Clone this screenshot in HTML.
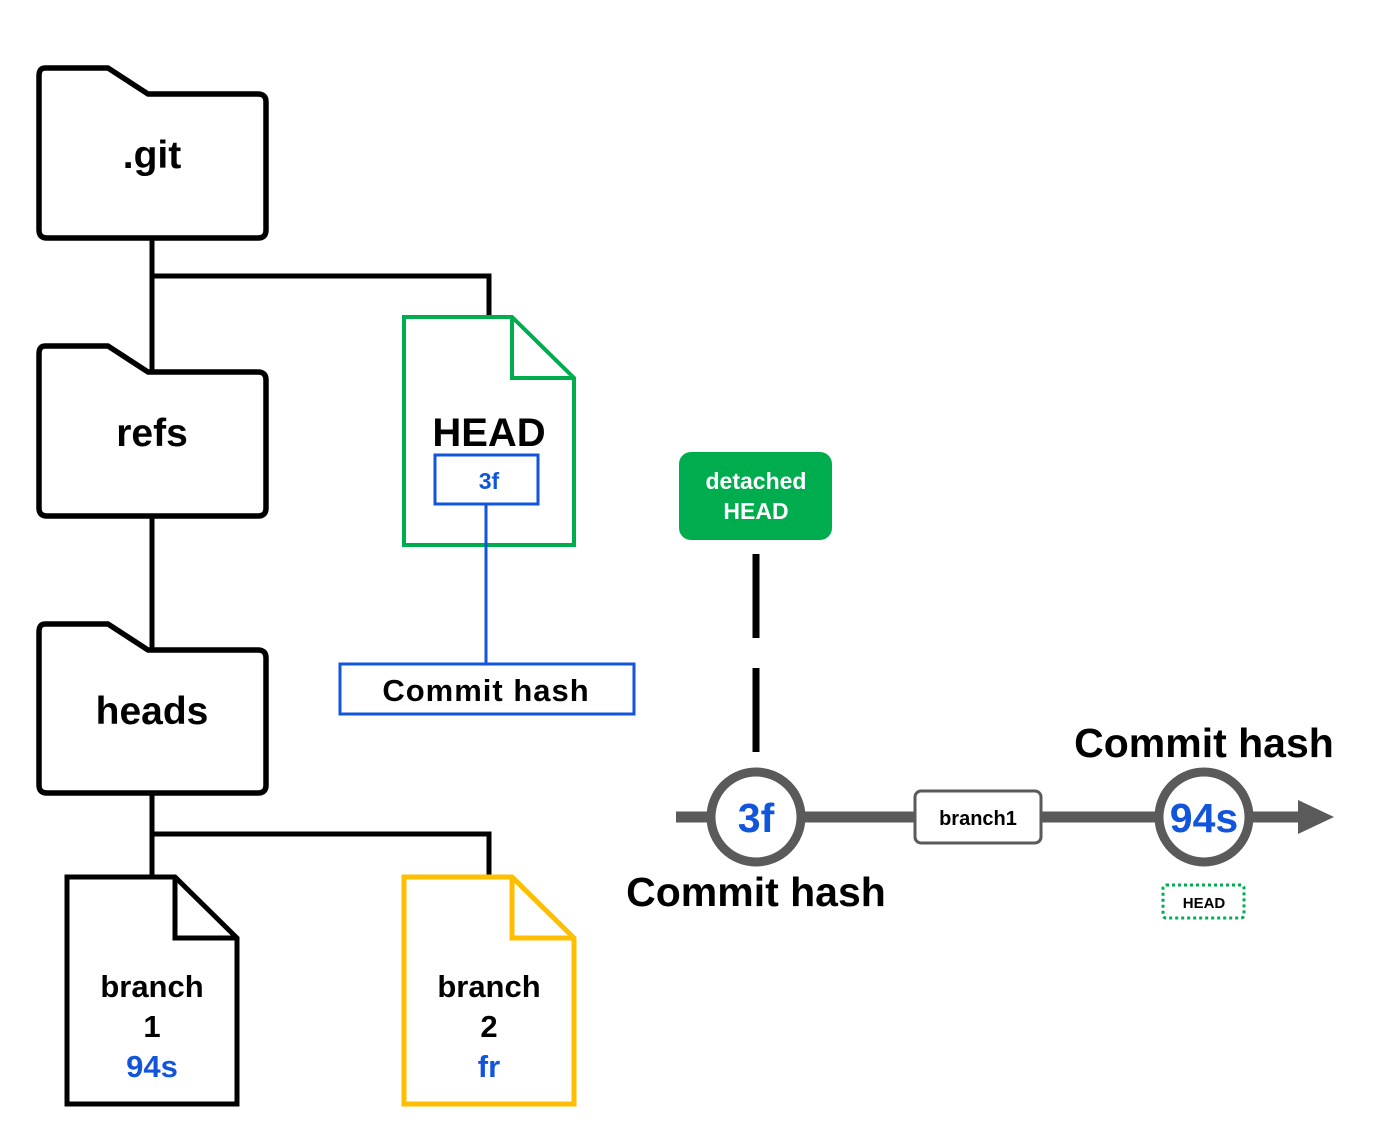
<!DOCTYPE html>
<html><head><meta charset="utf-8"><style>
html,body{margin:0;padding:0;background:#fff;width:1383px;height:1131px;overflow:hidden}
text{font-family:"Liberation Sans",Arial,sans-serif;font-weight:bold}
</style></head><body>
<svg width="1383" height="1131" viewBox="0 0 1383 1131" xmlns="http://www.w3.org/2000/svg">
<g stroke="#000" stroke-width="5" fill="none">
<path d="M152 240V370"/>
<path d="M152 276H489V316"/>
<path d="M152 518V648"/>
<path d="M152 795V876"/>
<path d="M152 834H489V876"/>
</g>
<g stroke="#000" stroke-width="5.5" fill="#fff" stroke-linejoin="round">
<path d="M45 68H108L148 94H258Q266 94 266 102V230Q266 238 258 238H47Q39 238 39 230V76Q39 68 45 68Z"/>
<path d="M45 346H108L148 372H258Q266 372 266 380V508Q266 516 258 516H47Q39 516 39 508V354Q39 346 45 346Z"/>
<path d="M45 624H108L148 650H258Q266 650 266 658V785Q266 793 258 793H47Q39 793 39 785V632Q39 624 45 624Z"/>
</g>
<path d="M152 240V370" stroke="#000" stroke-width="5"/>
<path d="M152 518V648" stroke="#000" stroke-width="5"/>
<text x="152" y="168" font-size="39" text-anchor="middle">.git</text>
<text x="152" y="446" font-size="39" text-anchor="middle">refs</text>
<text x="152" y="724" font-size="39" text-anchor="middle">heads</text>
<path d="M404 317H512L574 378V545H404Z" fill="#fff" stroke="#00ad4e" stroke-width="4"/>
<path d="M512 317V378H574" fill="none" stroke="#00ad4e" stroke-width="4"/>
<text x="489" y="446" font-size="40" text-anchor="middle">HEAD</text>
<rect x="435" y="455" width="103" height="49" fill="#fff" stroke="#1155dd" stroke-width="3"/>
<text x="489" y="489" font-size="23" fill="#1155dd" text-anchor="middle">3f</text>
<path d="M486 504V664" stroke="#1155dd" stroke-width="3"/>
<rect x="340" y="664" width="294" height="50" fill="#fff" stroke="#1155dd" stroke-width="3"/>
<text x="486" y="701" font-size="31" letter-spacing="1" text-anchor="middle">Commit hash</text>
<path d="M67 877H175L237 938V1104H67Z" fill="#fff" stroke="#000" stroke-width="5"/>
<path d="M175 877V938H237" fill="none" stroke="#000" stroke-width="5"/>
<text x="152" y="997" font-size="31" text-anchor="middle">branch</text>
<text x="152" y="1037" font-size="31" text-anchor="middle">1</text>
<text x="152" y="1077" font-size="31" fill="#1155dd" text-anchor="middle">94s</text>
<path d="M404 877H512L574 938V1104H404Z" fill="#fff" stroke="#ffbf00" stroke-width="5"/>
<path d="M512 877V938H574" fill="none" stroke="#ffbf00" stroke-width="5"/>
<text x="489" y="997" font-size="31" text-anchor="middle">branch</text>
<text x="489" y="1037" font-size="31" text-anchor="middle">2</text>
<text x="489" y="1077" font-size="31" fill="#1155dd" text-anchor="middle">fr</text>
<rect x="679" y="452" width="153" height="88" rx="12" fill="#00ad4e"/>
<text x="756" y="489" font-size="23" fill="#fff" text-anchor="middle">detached</text>
<text x="756" y="519" font-size="23" fill="#fff" text-anchor="middle">HEAD</text>
<path d="M756 554V638M756 668V752" stroke="#000" stroke-width="7"/>
<path d="M676 817H1300" stroke="#5a5a5a" stroke-width="11"/>
<path d="M1298 800L1334 817L1298 834Z" fill="#5a5a5a"/>
<circle cx="756" cy="817" r="45" fill="#fff" stroke="#5a5a5a" stroke-width="9"/>
<text x="756" y="832" font-size="41" fill="#1155dd" text-anchor="middle">3f</text>
<circle cx="1204" cy="817" r="45" fill="#fff" stroke="#5a5a5a" stroke-width="9"/>
<text x="1204" y="832" font-size="41" fill="#1155dd" text-anchor="middle">94s</text>
<rect x="915" y="791" width="126" height="52" rx="6" fill="#fff" stroke="#5a5a5a" stroke-width="3"/>
<text x="978" y="825" font-size="20" text-anchor="middle">branch1</text>
<text x="756" y="906" font-size="41" text-anchor="middle">Commit hash</text>
<text x="1204" y="757" font-size="41" text-anchor="middle">Commit hash</text>
<rect x="1163" y="885" width="81" height="33" rx="3" fill="#fff" stroke="#00ad4e" stroke-width="3" stroke-dasharray="3 3"/>
<text x="1204" y="908" font-size="15" text-anchor="middle">HEAD</text>
</svg>
</body></html>
